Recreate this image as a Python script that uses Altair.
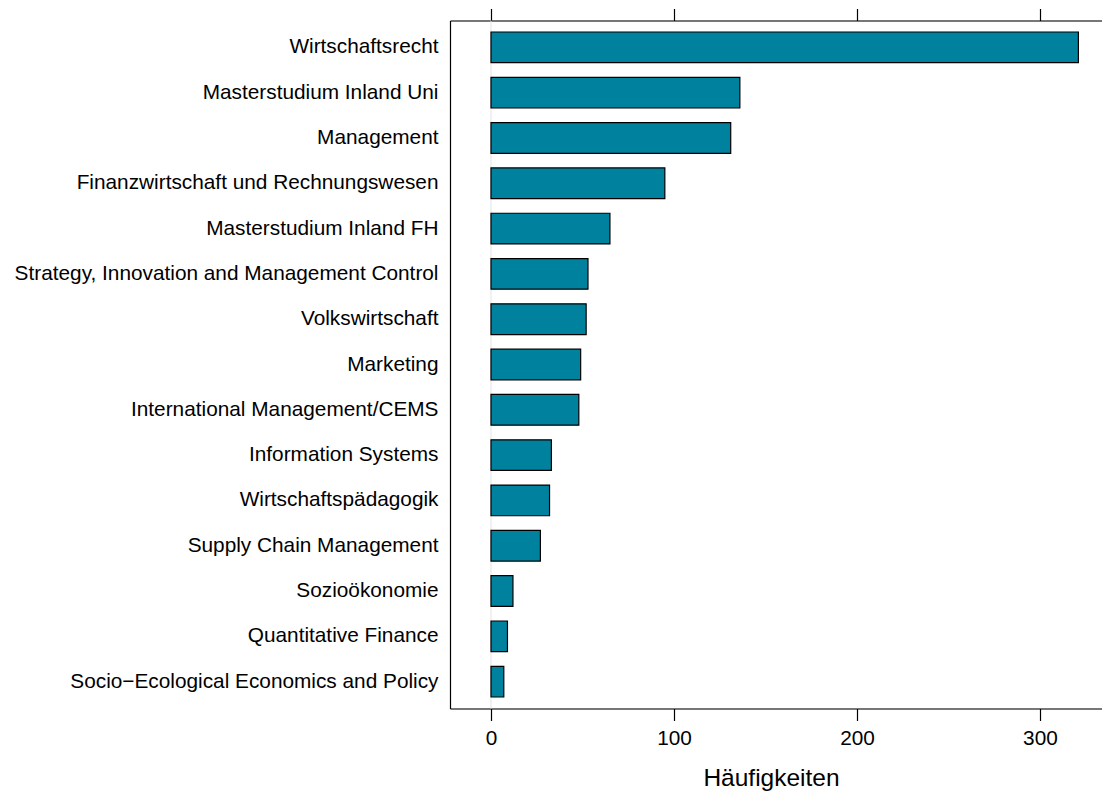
import altair as alt
import pandas as pd

categories = [
    "Wirtschaftsrecht",
    "Masterstudium Inland Uni",
    "Management",
    "Finanzwirtschaft und Rechnungswesen",
    "Masterstudium Inland FH",
    "Strategy, Innovation and Management Control",
    "Volkswirtschaft",
    "Marketing",
    "International Management/CEMS",
    "Information Systems",
    "Wirtschaftspädagogik",
    "Supply Chain Management",
    "Sozioökonomie",
    "Quantitative Finance",
    "Socio\u2212Ecological Economics and Policy",
]
values = [321, 136, 131, 95, 65, 53, 52, 49, 48, 33, 32, 27, 12, 9, 7]
tick_values = [0, 100, 200, 300]

df = pd.DataFrame({"Studium": categories, "Haeufigkeit": values, "Null": [0] * len(values)})
zero_df = pd.DataFrame({"x": [0]})

FONT = "Liberation Sans"
xscale = alt.Scale(domain=[-22.4, 333.9], nice=False, zero=False)
yscale = alt.Scale(paddingInner=0.323, paddingOuter=0.254)

rule = alt.Chart(zero_df).mark_rule(color="#e3e3e3", strokeWidth=1).encode(
    x=alt.X(
        "x:Q",
        scale=xscale,
        axis=alt.Axis(
            orient="top",
            values=tick_values,
            labels=False,
            title=None,
            grid=False,
            domainColor="black",
            domainWidth=1.2,
            tickColor="black",
            tickWidth=1.2,
            tickSize=12,
        ),
    )
)

bars = alt.Chart(df).mark_bar(color="#00829F", stroke="black", strokeWidth=1.2).encode(
    x=alt.X(
        "Haeufigkeit:Q",
        scale=xscale,
        axis=alt.Axis(
            orient="bottom",
            values=tick_values,
            title="Häufigkeiten",
            grid=False,
            domainColor="black",
            domainWidth=1.2,
            tickColor="black",
            tickWidth=1.2,
            tickSize=12,
            labelPadding=8,
            labelFontSize=20.8,
            labelColor="black",
            labelFont=FONT,
            labelFlush=False,
            titleFontSize=24.5,
            titleFont=FONT,
            titleColor="black",
            titleFontWeight="normal",
            titleX=321,
            titlePadding=18,
        ),
    ),
    x2="Null:Q",
    y=alt.Y(
        "Studium:N",
        sort=categories,
        scale=yscale,
        axis=alt.Axis(
            title=None,
            ticks=False,
            labelPadding=12,
            labelFontSize=20.8,
            labelFont=FONT,
            labelColor="black",
            labelLimit=0,
            domainColor="black",
            domainWidth=1.2,
        ),
    ),
)

chart = (
    alt.layer(rule, bars)
    .properties(
        width=652,
        height=688,
        autosize=alt.AutoSizeParams(type="none"),
        padding={"left": 442, "top": 12.5, "right": 0, "bottom": 87},
    )
    .configure_view(stroke=None)
    .configure(font=FONT)
)

chart.save("out.html", embed_options={"renderer": "svg", "actions": False})
